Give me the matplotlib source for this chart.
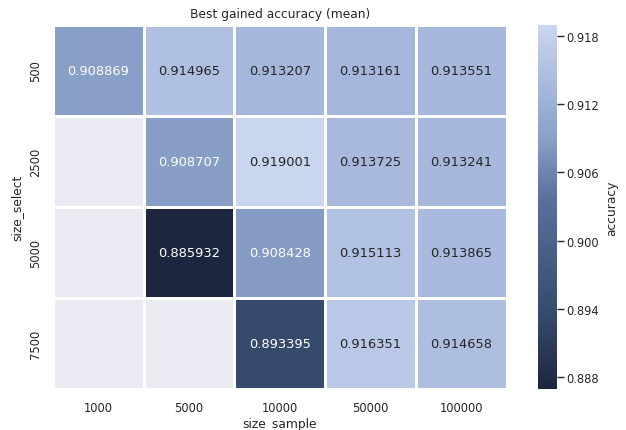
import numpy as np
import pandas as pd
import seaborn as sns
import matplotlib.pyplot as plt
from matplotlib.colors import LinearSegmentedColormap

size_select = [500, 2500, 5000, 7500]
size_sample = [1000, 5000, 10000, 50000, 100000]

acc_500 = [0.908869, 0.914965, 0.913207, 0.913161, 0.913551]
acc_2500 = [np.nan, 0.908707, 0.919001, 0.913725, 0.913241]
acc_5000 = [np.nan, 0.885932, 0.908428, 0.915113, 0.913865]
acc_7500 = [np.nan, np.nan, 0.893395, 0.916351, 0.914658]

cbar_ticks = [0.888, 0.894, 0.900, 0.906, 0.912, 0.918]

df = pd.DataFrame([acc_500, acc_2500, acc_5000, acc_7500],
                  index=pd.Index(size_select, name="size_select"),
                  columns=pd.Index(size_sample, name="size_sample"))

sns.set_theme(style="darkgrid")
plt.rcParams["font.family"] = ["DejaVu Sans"]

# blue-ish dark -> light map
cmap = LinearSegmentedColormap.from_list("acc", [
    (0.0, "#1c263f"),
    (0.20, "#364a6d"),
    (0.52, "#5a6f9c"),
    (0.685, "#889fc8"),
    (0.82, "#a4b6db"),
    (1.0, "#c9d6ef"),
])

fig = plt.figure(figsize=(6.26, 4.31), dpi=100)
ax = fig.add_axes([0.0842, 0.0951, 0.7252, 0.8446])
cax = fig.add_axes([0.859, 0.0951, 0.0304, 0.8446])

sns.heatmap(df, ax=ax, cbar_ax=cax, cmap=cmap, vmin=0.88697, vmax=0.91894,
            annot=True, fmt=".6f", linewidths=0.8, linecolor="white",
            annot_kws={"fontsize": 9.4},
            cbar_kws={"label": "accuracy", "ticks": cbar_ticks})
ax.grid(False)

ax.set_title("Best gained accuracy (mean)", fontsize=8.8, pad=6)
ax.set_xlabel("size_sample", fontsize=8.8, labelpad=2)
ax.set_ylabel("size_select", fontsize=8.8, labelpad=4)
ax.tick_params(axis="x", labelsize=8.3, length=0, pad=8.5)
ax.tick_params(axis="y", labelsize=8.3, length=0, pad=7.5)
cax.tick_params(labelsize=8.3, length=5, width=1, pad=2)
cax.yaxis.label.set_size(8.8)
cax.set_yticklabels([f"{t:.3f}" for t in cbar_ticks])

fig.savefig("out.png", dpi=100)
